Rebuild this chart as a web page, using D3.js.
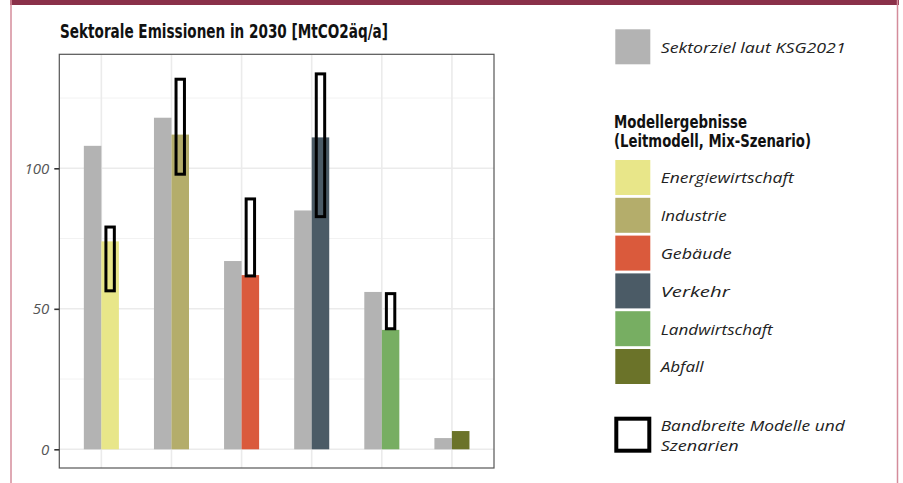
<!DOCTYPE html>
<html>
<head>
<meta charset="utf-8">
<script src="https://cdn.jsdelivr.net/npm/d3@7"></script>
<style>
  html, body { margin: 0; padding: 0; background: #fff; }
  svg { display: block; }
</style>
</head>
<body>
<svg id="chart" width="903" height="483"></svg>
<script>
const categories = ["Energiewirtschaft", "Industrie", "Gebäude", "Verkehr", "Landwirtschaft", "Abfall"];
const targetValues = [108, 118, 67, 85, 56, 4];
const modelValues = [74, 112, 62, 111, 42.5, 6.5];
const rangeLow = [56.4, 97.9, 61.7, 82.8, 42.9, null];
const rangeHigh = [79.1, 131.7, 89.1, 133.6, 55.4, null];
const sectorColors = ["#E8E689", "#B4AD6B", "#DA5A3C", "#4B5B66", "#77AE62", "#6B7329"];
const yTicks = [0, 50, 100];
const yMinorTicks = [25, 75, 125];
const targetLabel = "Sektorziel laut KSG2021";
const rangeLabel = ["Bandbreite Modelle und", "Szenarien"];
const legendTitle = ["Modellergebnisse", "(Leitmodell, Mix-Szenario)"];
const chartTitle = "Sektorale Emissionen in 2030 [MtCO2äq/a]";

const svg = d3.select("#chart");
const W = 903, H = 483;

// frame
svg.append("rect").attr("x", 10).attr("y", 0).attr("width", 889).attr("height", 5).attr("fill", "#8A3049");
svg.append("line").attr("x1", 11).attr("x2", 11).attr("y1", 0).attr("y2", H).attr("stroke", "#D48C9B").attr("stroke-width", 1.5);
svg.append("line").attr("x1", 897.5).attr("x2", 897.5).attr("y1", 0).attr("y2", H).attr("stroke", "#D48C9B").attr("stroke-width", 1.5);

const panel = { left: 59.3, right: 494, top: 54.3, bottom: 468 };

const x = d3.scalePoint().domain(categories).range([panel.left, panel.right]).padding(0.6);
const step = x.step();
const y = d3.scaleLinear().domain([-6.65, 140.57]).range([panel.bottom, panel.top]);

const g = svg.append("g");

// grid
g.selectAll(".minor").data(yMinorTicks).join("line")
  .attr("x1", panel.left).attr("x2", panel.right)
  .attr("y1", d => y(d)).attr("y2", d => y(d))
  .attr("stroke", "#F2F2F2").attr("stroke-width", 1);
g.selectAll(".major").data(yTicks).join("line")
  .attr("x1", panel.left).attr("x2", panel.right)
  .attr("y1", d => y(d)).attr("y2", d => y(d))
  .attr("stroke", "#EBEBEB").attr("stroke-width", 1.6);
g.selectAll(".vmajor").data(categories).join("line")
  .attr("x1", d => x(d)).attr("x2", d => x(d))
  .attr("y1", panel.top).attr("y2", panel.bottom)
  .attr("stroke", "#EBEBEB").attr("stroke-width", 1.6);

// target bars
g.selectAll(".tbar").data(categories).join("rect")
  .attr("x", d => x(d) - step * 0.25)
  .attr("width", step * 0.25)
  .attr("y", (d, i) => y(targetValues[i]))
  .attr("height", (d, i) => y(0) - y(targetValues[i]))
  .attr("fill", "#B3B3B3");

// model bars
g.selectAll(".mbar").data(categories).join("rect")
  .attr("x", d => x(d))
  .attr("width", step * 0.25)
  .attr("y", (d, i) => y(modelValues[i]))
  .attr("height", (d, i) => y(0) - y(modelValues[i]))
  .attr("fill", (d, i) => sectorColors[i]);

// range boxes
const rangeData = categories.map((c, i) => ({ c, lo: rangeLow[i], hi: rangeHigh[i] })).filter(d => d.lo !== null);
g.selectAll(".rng").data(rangeData).join("rect")
  .attr("x", d => x(d.c) + step * 0.125 - step * 0.06)
  .attr("width", step * 0.12)
  .attr("y", d => y(d.hi))
  .attr("height", d => y(d.lo) - y(d.hi))
  .attr("fill", "none").attr("stroke", "#000").attr("stroke-width", 3);

// panel border
svg.append("rect").attr("x", panel.left).attr("y", panel.top)
  .attr("width", panel.right - panel.left).attr("height", panel.bottom - panel.top)
  .attr("fill", "none").attr("stroke", "#555").attr("stroke-width", 1.2);

// y axis
const yAxis = d3.axisLeft(y).tickValues(yTicks).tickSize(5).tickPadding(5);
const ax = svg.append("g").attr("transform", `translate(${panel.left},0)`).call(yAxis);
ax.select(".domain").remove();
ax.selectAll(".tick line").attr("stroke", "#333").attr("stroke-width", 1.6);
ax.selectAll(".tick text").attr("fill", "#555").attr("font-family", "Open Sans, sans-serif")
  .attr("font-style", "italic").attr("font-size", 15);

// title
svg.append("text").attr("x", 60).attr("y", 38).text(chartTitle)
  .attr("font-family", "DejaVu Sans Condensed, DejaVu Sans, sans-serif")
  .attr("font-stretch", "condensed").attr("font-weight", "bold").attr("font-size", 19)
  .attr("fill", "#111").attr("textLength", 328).attr("lengthAdjust", "spacingAndGlyphs");

// legend
const lx = 615.3, tx = 660.7;
const itemFont = "Open Sans, sans-serif";
const itemWidths = [133, 66, 71, 69, 112, 43];
const rangeWidths = [184, 78];
const lg = svg.append("g");
lg.append("rect").attr("x", lx).attr("y", 29.3).attr("width", 35).attr("height", 35).attr("fill", "#B3B3B3");
lg.append("text").attr("x", tx).attr("y", 53).text(targetLabel)
  .attr("font-family", itemFont).attr("font-style", "italic").attr("font-size", 15).attr("fill", "#222")
  .attr("textLength", 185).attr("lengthAdjust", "spacingAndGlyphs");

lg.selectAll(".lt").data(legendTitle).join("text")
  .attr("x", 614).attr("y", (d, i) => 128 + i * 18.7).text(d => d)
  .attr("font-family", "DejaVu Sans Condensed, DejaVu Sans, sans-serif")
  .attr("font-stretch", "condensed").attr("font-weight", "bold").attr("font-size", 17)
  .attr("fill", "#111")
  .attr("textLength", (d, i) => [133, 197][i]).attr("lengthAdjust", "spacingAndGlyphs");

const itemY0 = 160, itemStep = 37.8;
lg.selectAll(".sw").data(categories).join("rect")
  .attr("x", lx).attr("y", (d, i) => itemY0 + i * itemStep)
  .attr("width", 35).attr("height", 35)
  .attr("fill", (d, i) => sectorColors[i]);
lg.selectAll(".st").data(categories).join("text")
  .attr("x", tx).attr("y", (d, i) => itemY0 + i * itemStep + 23.3).text(d => d)
  .attr("font-family", itemFont).attr("font-style", "italic").attr("font-size", 15).attr("fill", "#222")
  .attr("textLength", (d, i) => itemWidths[i]).attr("lengthAdjust", "spacingAndGlyphs");

lg.append("rect").attr("x", 616.3).attr("y", 418.7).attr("width", 33).attr("height", 32)
  .attr("fill", "none").attr("stroke", "#000").attr("stroke-width", 4);
lg.selectAll(".rt").data(rangeLabel).join("text")
  .attr("x", tx).attr("y", (d, i) => 430.7 + i * 20).text(d => d)
  .attr("font-family", itemFont).attr("font-style", "italic").attr("font-size", 14.5).attr("fill", "#222")
  .attr("textLength", (d, i) => rangeWidths[i]).attr("lengthAdjust", "spacingAndGlyphs");
</script>
</body>
</html>
